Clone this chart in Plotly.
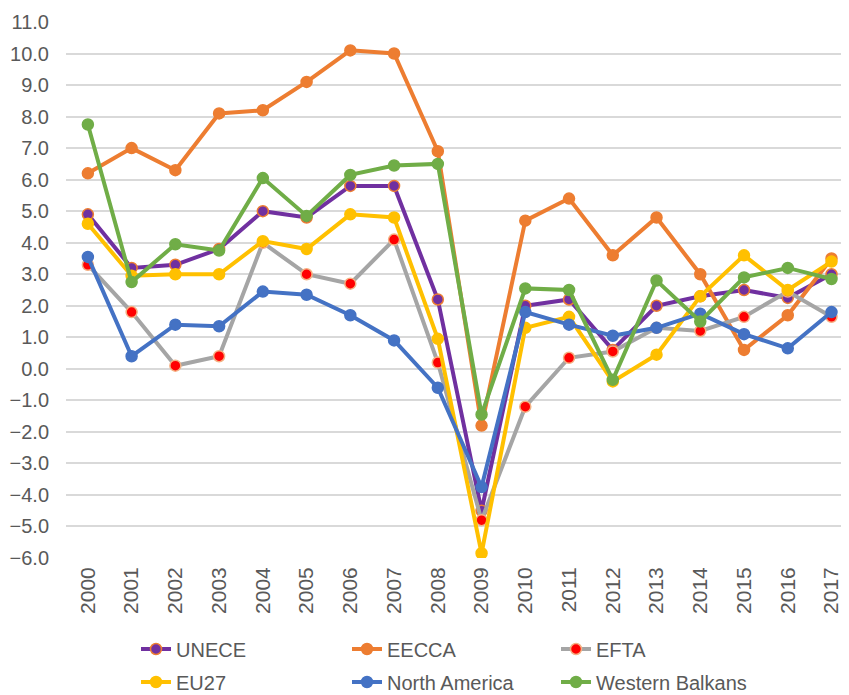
import plotly.graph_objects as go

years = [str(y) for y in range(2000, 2018)]

unece = [4.9, 3.2, 3.3, 3.8, 5.0, 4.8, 5.8, 5.8, 2.2, -4.5, 2.0, 2.2, 0.6, 2.0, 2.3, 2.5, 2.25, 3.0]
eecca = [6.2, 7.0, 6.3, 8.1, 8.2, 9.1, 10.1, 10.0, 6.9, -1.8, 4.7, 5.4, 3.6, 4.8, 3.0, 0.6, 1.7, 3.5]
efta = [3.3, 1.8, 0.1, 0.4, 4.0, 3.0, 2.7, 4.1, 0.2, -4.8, -1.2, 0.35, 0.55, 1.3, 1.2, 1.65, 2.45, 1.65]
eu27 = [4.6, 2.95, 3.0, 3.0, 4.05, 3.8, 4.9, 4.8, 0.95, -5.85, 1.3, 1.65, -0.4, 0.45, 2.3, 3.6, 2.5, 3.4]
north_america = [3.55, 0.4, 1.4, 1.35, 2.45, 2.35, 1.7, 0.9, -0.6, -3.75, 1.8, 1.4, 1.05, 1.3, 1.75, 1.1, 0.65, 1.8]
western_balkans = [7.75, 2.75, 3.95, 3.75, 6.05, 4.85, 6.15, 6.45, 6.5, -1.45, 2.55, 2.5, -0.35, 2.8, 1.5, 2.9, 3.2, 2.85]

y_ticks = [i for i in range(-6, 12)]

series = [
    ("UNECE", unece, "#7030A0", "#7030A0", "#ED7D31"),
    ("EECCA", eecca, "#ED7D31", "#ED7D31", "#ED7D31"),
    ("EFTA", efta, "#A5A5A5", "#FF0000", "#F4B183"),
    ("EU27", eu27, "#FFC000", "#FFC000", "#FFC000"),
    ("North America", north_america, "#4472C4", "#4472C4", "#4472C4"),
    ("Western Balkans", western_balkans, "#70AD47", "#70AD47", "#70AD47"),
]

font = dict(family="Liberation Sans, Arial, sans-serif", size=20, color="#595959")
xfont = dict(family="Liberation Sans, Arial, sans-serif", size=21, color="#595959")

# page body has an 8px margin; figure is sized to fill the rest of the window
OFF = 8
FIG_W = 849 - OFF
FIG_H = 695 - OFF
L = 66 - OFF
T = 22 - OFF
B = 137
W_PLOT = FIG_W - L
H_PLOT = FIG_H - T - B
B_PLOT = 558 - OFF
text_starts = [180, 391, 600]
row_centers = [649, 682]

fig = go.Figure()
layout_legends = {}
for i, (name, vals, lc, mc, mlc) in enumerate(series):
    lg = "legend" if i == 0 else f"legend{i + 1}"
    fig.add_trace(go.Scatter(
        x=years, y=vals, name=name, mode="lines+markers",
        line=dict(color=lc, width=4),
        marker=dict(size=11, color=mc, line=dict(color=mlc, width=1.5)),
        legend=lg, showlegend=True,
    ))
    col = i % 3
    row = i // 3
    lx = (text_starts[col] - OFF - 44 - L) / W_PLOT
    ly = -(row_centers[row] - OFF - B_PLOT) / H_PLOT
    layout_legends[lg] = dict(
        orientation="h", x=lx, y=ly, xanchor="left", yanchor="middle",
        font=font, bgcolor="rgba(0,0,0,0)", borderwidth=0, visible=True,
    )

fig.update_layout(
    width=FIG_W, height=FIG_H,
    showlegend=True,
    margin=dict(l=L, r=0, t=T, b=B, autoexpand=False),
    paper_bgcolor="white", plot_bgcolor="white",
    font=font,
    xaxis=dict(
        type="category", range=[-0.5, 17.4], tickangle=-90,
        showgrid=False, showline=False, zeroline=False, ticks="",
        tickfont=xfont, automargin=False, ticklabelstandoff=4,
    ),
    yaxis=dict(
        range=[-6, 11], tickvals=y_ticks, tickformat=".1f",
        showgrid=True, gridcolor="#D9D9D9", gridwidth=1.5,
        zeroline=False, showline=False, ticks="",
        tickfont=font, automargin=False, ticklabelstandoff=16,
    ),
    **layout_legends,
)

fig.write_html("out.html")
